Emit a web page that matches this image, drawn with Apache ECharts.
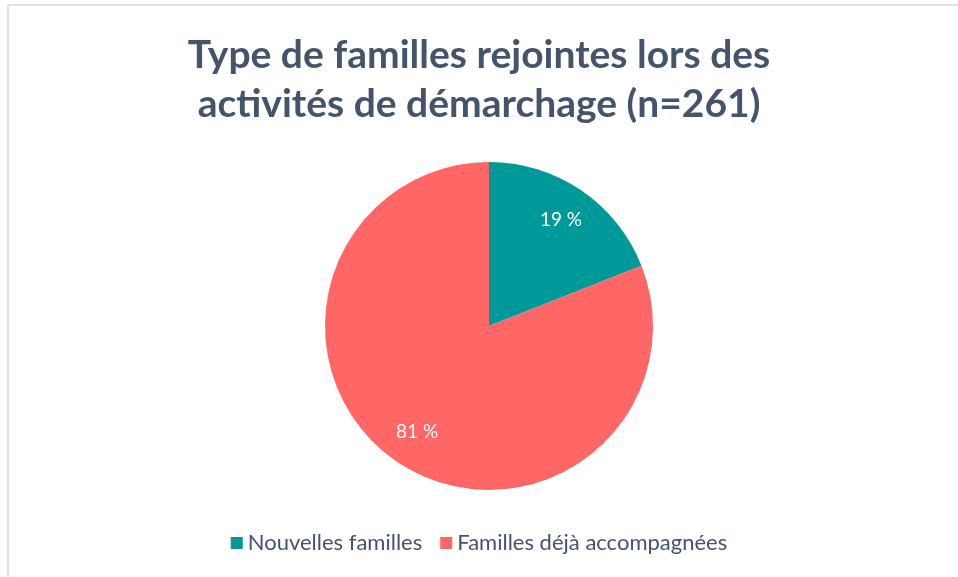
<!DOCTYPE html>
<html>
<head>
<meta charset="utf-8">
<script src="https://cdn.jsdelivr.net/npm/echarts@6/dist/echarts.min.js"></script>
<style>
  html, body { margin: 0; padding: 0; background: #fff; }
  #chart { width: 958px; height: 577px; }
</style>
</head>
<body>
<div id="chart"></div>
<script>
// données
const categories = ['Nouvelles familles', 'Familles déjà accompagnées'];
const percents = [19, 81];
const colors = ['#009999', '#FF6666'];

const chart = echarts.init(document.getElementById('chart'));

const pieData = categories.map((name, i) => ({
  name: name,
  value: percents[i],
  itemStyle: { color: colors[i] },
}));

const option = {
  animation: false,
  title: {
    text: 'Type de familles rejointes lors des\nactivités de démarchage (n=261)',
    left: 'center',
    top: 26,
    textStyle: {
      fontFamily: 'Lato',
      fontWeight: 'bold',
      fontSize: 39,
      lineHeight: 49,
      color: '#44546A',
    },
  },
  legend: {
    data: categories,
    bottom: 18,
    left: 'center',
    itemWidth: 12,
    itemHeight: 12,
    itemGap: 18,
    icon: 'rect',
    textStyle: {
      fontFamily: 'Lato',
      fontSize: 22,
      color: '#44546A',
    },
  },
  graphic: [
    { type: 'line', shape: { x1: 8, y1: 5, x2: 958, y2: 5 }, style: { stroke: '#DDE2E8', lineWidth: 2 } },
    { type: 'line', shape: { x1: 8, y1: 5, x2: 8, y2: 577 }, style: { stroke: '#DDE2E8', lineWidth: 2 } },
  ],
  series: [
    {
      type: 'pie',
      center: [489, 326],
      radius: [0, 164],
      startAngle: 90,
      clockwise: true,
      silent: true,
      label: { show: false },
      labelLine: { show: false },
      data: pieData,
    },
    {
      // série transparente pour placer les étiquettes plus loin du centre
      type: 'pie',
      center: [489, 326],
      radius: [86, 164],
      startAngle: 90,
      clockwise: true,
      silent: true,
      itemStyle: { color: 'transparent' },
      label: {
        show: true,
        position: 'inside',
        formatter: '{c} %',
        fontFamily: 'Lato',
        fontSize: 19,
        color: '#fff',
      },
      labelLine: { show: false },
      data: categories.map((name, i) => ({ name: name, value: percents[i], itemStyle: { color: 'transparent' } })),
    },
  ],
};

chart.setOption(option);
</script>
</body>
</html>
